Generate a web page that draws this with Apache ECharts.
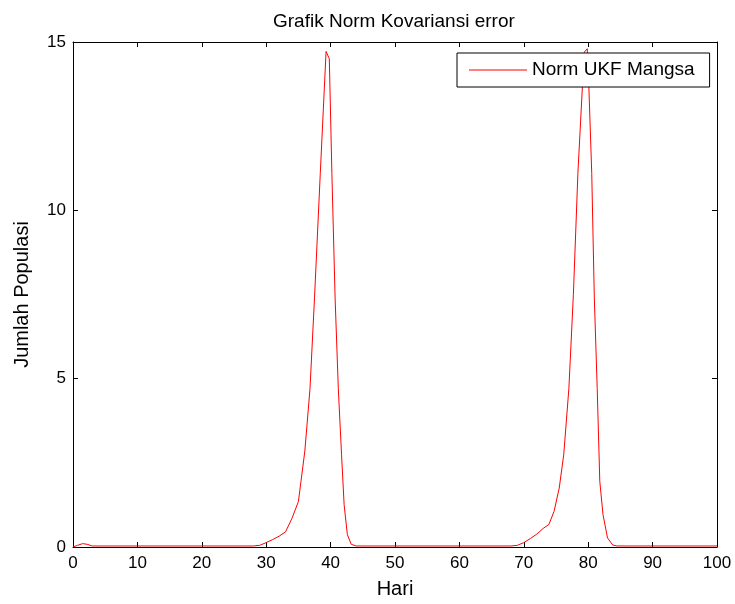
<!DOCTYPE html>
<html>
	<head>
		<meta charset="utf-8">
		<title>Grafik Norm Kovariansi error</title>
		<style>
			html, body { margin: 0; padding: 0; background: #fff; }
			#chart { width: 735px; height: 604px; }
		</style>
	</head>
	<body>
		<div id="chart"></div>
		<script src="https://cdn.jsdelivr.net/npm/echarts@6/dist/echarts.min.js"></script>
		<script>
		// data (day, norm)
		var days = [0, 0.7, 1.5, 2.2, 3, 10, 20, 28, 29, 30, 31, 32, 33, 34, 35, 35.4, 36, 36.8, 37.5, 38.4, 39.3, 39.8,
			40.2, 40.7, 41.2, 41.7, 42.1, 42.6, 43.2, 44, 50, 60, 68, 69, 70, 71, 72, 73, 73.9, 74.7, 75.5, 76.2, 77,
			77.7, 78.4, 79.1, 79.4, 79.85, 80.1, 80.55, 80.95, 81.4, 81.8, 82.3, 83, 83.8, 84.5, 90, 100];
		var normUkf = [0.0, 0.05, 0.1, 0.08, 0.03, 0.03, 0.03, 0.03, 0.05, 0.13, 0.22, 0.32, 0.45, 0.85, 1.35, 1.95, 2.85, 4.7, 7.4, 11.1, 14.72, 14.5,
			11.1, 7.4, 4.7, 2.74, 1.26, 0.37, 0.08, 0.03, 0.03, 0.03, 0.03, 0.05, 0.13, 0.25, 0.38, 0.55, 0.67, 1.06, 1.75, 2.74, 4.71,
			7.5, 11.1, 13.67, 14.7, 14.8, 13.67, 11.1, 7.4, 4.71, 1.95, 0.96, 0.27, 0.06, 0.03, 0.03, 0.03];
		var xTicks = [0, 100, 10];   // min, max, step
		var yTicks = [0, 15, 5];

		var font = 'Liberation Sans, Arial, sans-serif';
		var pairs = days.map(function(d, i) { return [d, normUkf[i]]; });

		var boxAxis = function(pos, t) {
			return {
				type: 'value', position: pos, min: t[0], max: t[1], interval: t[2],
				axisLine: { show: true, onZero: false, lineStyle: { color: '#000', width: 1 } },
				axisTick: { show: true, inside: true, length: 5, lineStyle: { color: '#000' } },
				axisLabel: { show: false },
				splitLine: { show: false }
			};
		};

		var chart = echarts.init(document.getElementById('chart'));
		chart.setOption({
			animation: false,
			backgroundColor: '#fff',
			title: {
				text: 'Grafik Norm Kovariansi error',
				left: 268, top: 7,
				textStyle: { fontFamily: font, fontSize: 19, fontWeight: 'normal', color: '#000' }
			},
			legend: {
				data: [{ name: 'Norm UKF Mangsa', icon: 'rect' }],
				left: 457, top: 53,
				padding: [7, 15, 7, 12],
				itemWidth: 58, itemHeight: 1, itemGap: 6,
				backgroundColor: '#fff',
				borderColor: '#000', borderWidth: 1,
				textStyle: { fontFamily: font, fontSize: 19, color: '#000', lineHeight: 20 }
			},
			grid: { left: 73, right: 18, top: 42, bottom: 55 },
			xAxis: [
				{
					type: 'value', position: 'bottom', min: xTicks[0], max: xTicks[1], interval: xTicks[2],
					name: 'Hari', nameLocation: 'middle', nameGap: 32,
					nameTextStyle: { fontFamily: font, fontSize: 20, color: '#000' },
					axisLine: { show: true, onZero: false, lineStyle: { color: '#000', width: 1 } },
					axisTick: { show: true, inside: true, length: 5, lineStyle: { color: '#000' } },
					axisLabel: { fontFamily: font, fontSize: 17, color: '#000', margin: 8, showMinLabel: true, showMaxLabel: true },
					splitLine: { show: false }
				},
				boxAxis('top', xTicks)
			],
			yAxis: [
				{
					type: 'value', position: 'left', min: yTicks[0], max: yTicks[1], interval: yTicks[2],
					name: 'Jumlah Populasi', nameLocation: 'middle', nameGap: 41,
					nameTextStyle: { fontFamily: font, fontSize: 20, color: '#000' },
					axisLine: { show: true, onZero: false, lineStyle: { color: '#000', width: 1 } },
					axisTick: { show: true, inside: true, length: 5, lineStyle: { color: '#000' } },
					axisLabel: { fontFamily: font, fontSize: 17, color: '#000', margin: 7 },
					splitLine: { show: false }
				},
				boxAxis('right', yTicks)
			],
			series: [{
				name: 'Norm UKF Mangsa',
				type: 'line',
				xAxisIndex: 0, yAxisIndex: 0,
				data: pairs,
				symbol: 'none',
				lineStyle: { color: '#ff0000', width: 1 },
				itemStyle: { color: '#ff0000' }
			}]
		});
		</script>
	</body>
</html>
